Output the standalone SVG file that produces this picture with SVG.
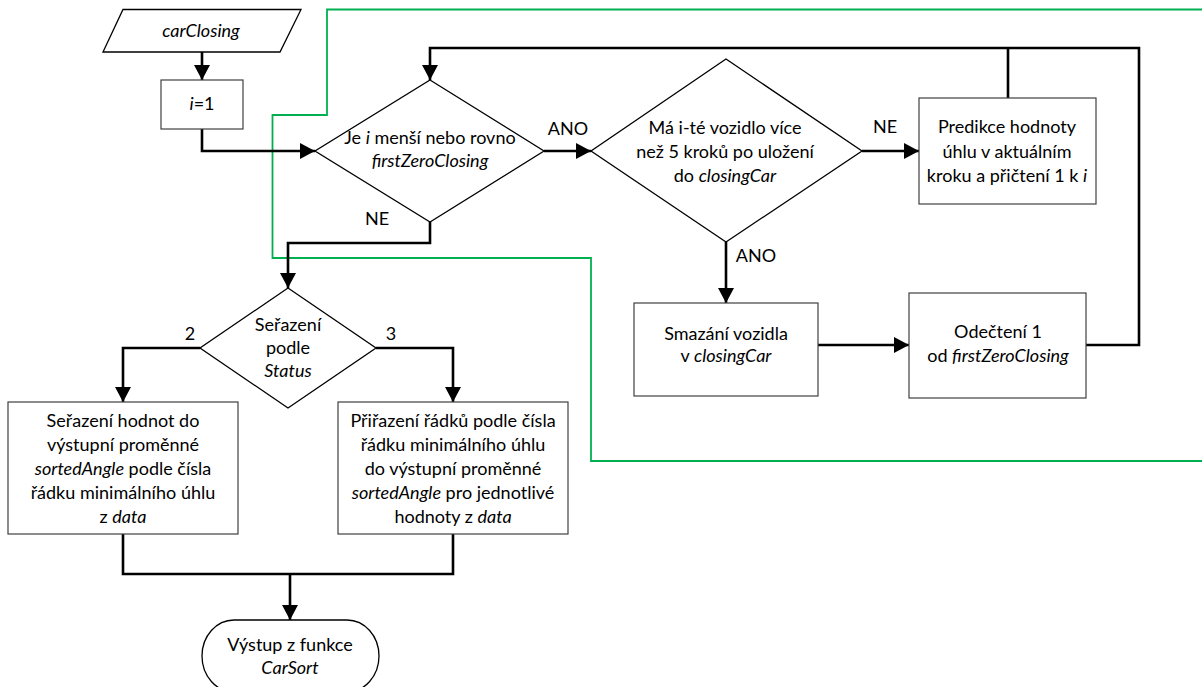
<svg xmlns="http://www.w3.org/2000/svg" width="1202" height="687" viewBox="0 0 1202 687">
<style>
  text { font-family: Lato, "Open Sans", "Liberation Sans", sans-serif; font-size: 18px; fill: #000; text-anchor: middle; }
  .it { font-style: italic; }
  .box { fill: #fff; stroke: #404040; stroke-width: 1.2; }
  .dia { fill: #fff; stroke: #000; stroke-width: 1.3; }
  .conn { fill: none; stroke: #000; stroke-width: 2.6; stroke-linejoin: miter; }
  .green { fill: none; stroke: #00b050; stroke-width: 1.8; }
</style>
<defs>
  <marker id="arr" markerUnits="userSpaceOnUse" markerWidth="16" markerHeight="16" refX="15" refY="8" orient="auto">
    <path d="M0,0 L15,8 L0,16 Z" fill="#000"/>
  </marker>
</defs>
<rect width="1202" height="687" fill="#fff"/>

<g id="green-boundary">
  <path class="green" d="M1202,9.5 H327 V115 H272.5 V258 H591 V461 H1202"/>
</g>

<g id="connectors">
  <path class="conn" d="M202,52 V80" marker-end="url(#arr)"/>
  <path class="conn" d="M202,129 V151 H315" marker-end="url(#arr)"/>
  <path class="conn" d="M544,151 H591" marker-end="url(#arr)"/>
  <path class="conn" d="M862,151 H919" marker-end="url(#arr)"/>
  <path class="conn" d="M726,242 V303" marker-end="url(#arr)"/>
  <path class="conn" d="M818,345 H909" marker-end="url(#arr)"/>
  <path class="conn" d="M1086,345 H1139 V48 H430 V80" marker-end="url(#arr)"/>
  <path class="conn" d="M1008,98 V48"/>
  <path class="conn" d="M430,222 V243 H288 V288" marker-end="url(#arr)"/>
  <path class="conn" d="M200,348 H123 V402" marker-end="url(#arr)"/>
  <path class="conn" d="M376,348 H453 V402" marker-end="url(#arr)"/>
  <path class="conn" d="M123,534 V574 H453 V534"/>
  <path class="conn" d="M290,574 V620" marker-end="url(#arr)"/>
</g>

<g id="connector-labels">
  <text x="568" y="135">ANO</text>
  <text x="377" y="225">NE</text>
  <text x="885" y="133">NE</text>
  <text x="756" y="262">ANO</text>
  <text x="190" y="340">2</text>
  <text x="391" y="340">3</text>
</g>

<g id="input-carClosing">
  <polygon class="dia" points="123,9.5 301,9.5 280,52 103,52" stroke-width="1.1"/>
  <text x="201" y="37" class="it">carClosing</text>
</g>

<g id="init-i">
  <rect class="box" x="161" y="80" width="82" height="49"/>
  <text x="202" y="110"><tspan class="it">i</tspan>=1</text>
</g>

<g id="decision-i">
  <polygon class="dia" points="430,80 544,151 430,222 315,151"/>
  <text x="430" y="144">Je <tspan class="it">i</tspan> menší nebo rovno</text>
  <text x="430" y="167" class="it">firstZeroClosing</text>
</g>

<g id="decision-steps">
  <polygon class="dia" points="726,59 862,151 726,242 591,151"/>
  <text x="725" y="134">Má i-té vozidlo více</text>
  <text x="725" y="158">než 5 kroků po uložení</text>
  <text x="725" y="182">do <tspan class="it">closingCar</tspan></text>
</g>

<g id="predikce">
  <rect class="box" x="919" y="98" width="177" height="106"/>
  <text x="1007" y="133">Predikce hodnoty</text>
  <text x="1007" y="158">úhlu v aktuálním</text>
  <text x="1007" y="182">kroku a přičtení 1 k <tspan class="it">i</tspan></text>
</g>

<g id="smazani">
  <rect class="box" x="634" y="303" width="184" height="93"/>
  <text x="726" y="340">Smazání vozidla</text>
  <text x="726" y="362">v  <tspan class="it">closingCar</tspan></text>
</g>

<g id="odecteni">
  <rect class="box" x="909" y="293" width="177" height="105"/>
  <text x="998" y="338">Odečtení 1</text>
  <text x="998" y="362">od <tspan class="it">firstZeroClosing</tspan></text>
</g>

<g id="decision-status">
  <polygon class="dia" points="288,288 376,348 288,408 200,348"/>
  <text x="288" y="331">Seřazení</text>
  <text x="288" y="354">podle</text>
  <text x="288" y="377" class="it">Status</text>
</g>

<g id="serazeni">
  <rect class="box" x="8" y="402" width="230" height="132"/>
  <text x="123" y="427">Seřazení hodnot do</text>
  <text x="123" y="451">výstupní proměnné</text>
  <text x="123" y="475"><tspan class="it">sortedAngle</tspan> podle čísla</text>
  <text x="123" y="499">řádku minimálního úhlu</text>
  <text x="123" y="523">z <tspan class="it">data</tspan></text>
</g>

<g id="prirazeni">
  <rect class="box" x="338" y="402" width="230" height="132"/>
  <text x="453" y="427">Přiřazení řádků podle čísla</text>
  <text x="453" y="451">řádku minimálního úhlu</text>
  <text x="453" y="475">do výstupní proměnné</text>
  <text x="453" y="499"><tspan class="it">sortedAngle</tspan> pro jednotlivé</text>
  <text x="453" y="523">hodnoty z <tspan class="it">data</tspan></text>
</g>

<g id="vystup">
  <rect class="dia" x="202" y="620" width="177" height="72" rx="32" ry="36"/>
  <text x="290" y="651">Výstup z funkce</text>
  <text x="290" y="674" class="it">CarSort</text>
</g>
</svg>
